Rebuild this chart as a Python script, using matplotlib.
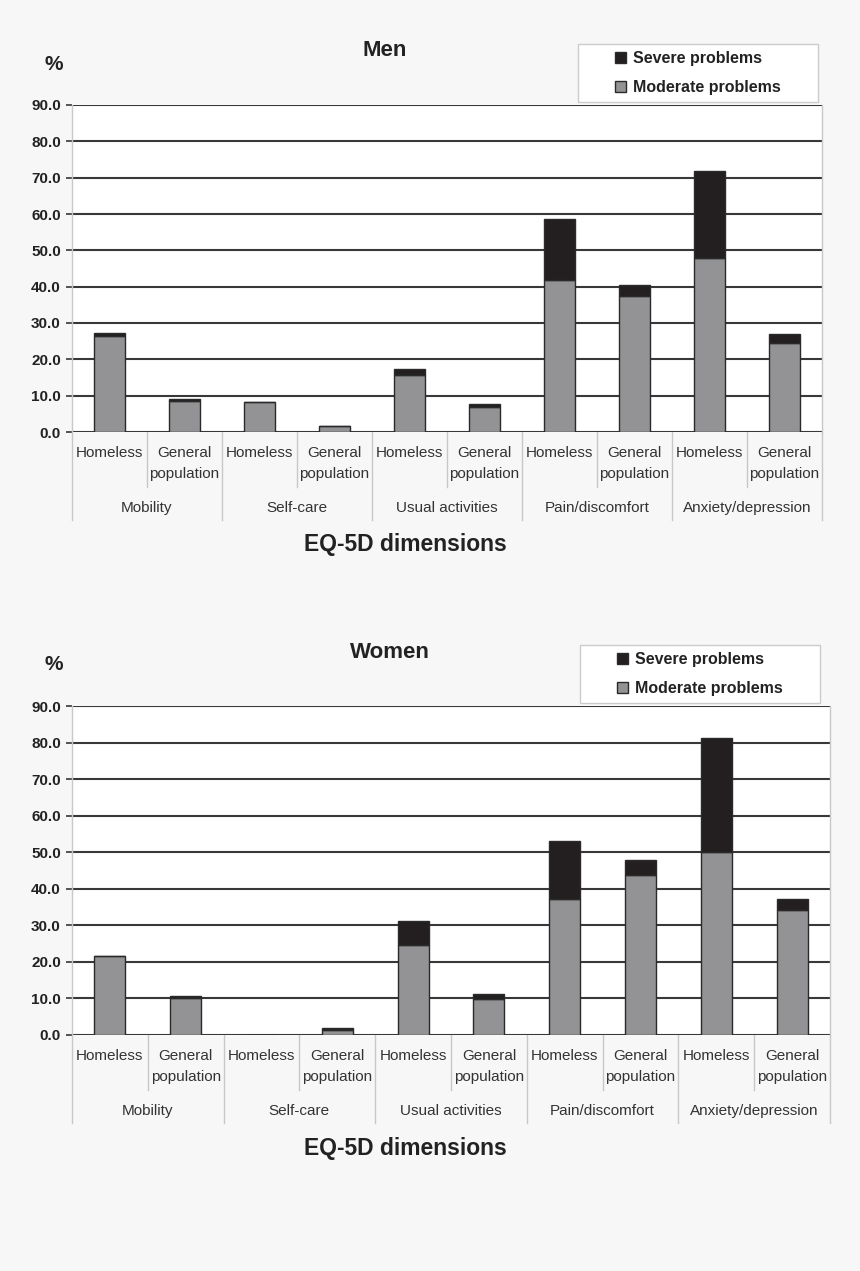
import matplotlib
matplotlib.use("Agg")
import matplotlib.pyplot as plt
from matplotlib.patches import Patch, Rectangle
import numpy as np

plt.rcParams['font.family'] = ['Liberation Sans', 'DejaVu Sans']

dimensions = ["Mobility", "Self-care", "Usual activities", "Pain/discomfort", "Anxiety/depression"]
groups = ["Homeless", "General\npopulation"]

men_moderate = [26.4, 8.4, 8.3, 1.6, 15.6, 6.9, 41.8, 37.4, 47.8, 24.6]
men_severe = [0.9, 0.6, 0.0, 0.0, 1.8, 0.9, 16.9, 3.1, 24.1, 2.3]

women_moderate = [21.7, 10.2, 0.0, 1.4, 24.6, 9.8, 37.3, 43.7, 50.0, 34.1]
women_severe = [0.0, 0.5, 0.0, 0.5, 6.6, 1.3, 15.9, 4.1, 31.2, 3.0]

yticks = [0, 10, 20, 30, 40, 50, 60, 70, 80, 90]

C_MOD = "#939396"
C_SEV = "#231f20"
C_EDGE = "#2a2a2a"
C_GRID = "#383838"
C_SEP = "#c8c8c8"
BG = "#f7f7f7"

W, H = 860, 1271
fig = plt.figure(figsize=(W / 100, H / 100), dpi=100, facecolor=BG)


def fx(px):
    return px / W


def fy(py):
    return 1 - py / H


def draw_panel(left, right, top, bottom, moderate, severe, title, title_xy,
               pct_xy, legend_box, xlabel_xy):
    ax = fig.add_axes([fx(left), fy(bottom), fx(right - left), (bottom - top) / H])
    ax.set_facecolor("white")
    n = len(moderate)
    x = np.arange(n)
    ax.bar(x, moderate, width=0.41, color=C_MOD, edgecolor=C_EDGE, linewidth=1.0, zorder=3)
    ax.bar(x, severe, width=0.41, bottom=moderate, color=C_SEV, edgecolor=C_EDGE,
           linewidth=1.0, zorder=3)
    ax.set_xlim(-0.5, n - 0.5)
    ax.set_ylim(0, 90)
    ax.set_yticks(yticks)
    ax.set_yticklabels([f"{v:.1f}" for v in yticks], fontsize=11, fontweight="bold",
                       color="#222222")
    ax.yaxis.grid(True, color=C_GRID, linewidth=1.5, zorder=1)
    ax.tick_params(axis="y", length=4, width=1.2, color=C_GRID, pad=4)
    ax.set_xticks([])
    for s in ["left", "right"]:
        ax.spines[s].set_color(C_SEP)
        ax.spines[s].set_linewidth(1.0)
    for s in ["top", "bottom"]:
        ax.spines[s].set_visible(False)

    hpx = bottom - top
    tr = ax.get_xaxis_transform()
    # separators
    for i in range(n + 1):
        xb = i - 0.5
        depth = 88 if i % 2 == 0 else 55
        ax.plot([xb, xb], [0, -depth / hpx], transform=tr, color=C_SEP, lw=1.0,
                clip_on=False, zorder=0)
    # sub labels
    for i in range(n):
        ax.text(i, -14 / hpx, groups[i % 2], transform=tr, ha="center", va="top",
                fontsize=11, color="#333333", linespacing=1.6)
    # group labels
    for j, d in enumerate(dimensions):
        ax.text(2 * j + 0.5, -80 / hpx, d, transform=tr, ha="center", va="baseline",
                fontsize=11, color="#333333")

    fig.text(fx(title_xy[0]), fy(title_xy[1]), title, ha="center", va="center",
             fontsize=16, fontweight="bold", color="#222222")
    fig.text(fx(pct_xy[0]), fy(pct_xy[1]), "%", ha="center", va="center",
             fontsize=15, fontweight="bold", color="#222222")
    fig.text(fx(xlabel_xy[0]), fy(xlabel_xy[1]), "EQ-5D dimensions", ha="center",
             va="center", fontsize=16.5, fontweight="bold", color="#222222")

    lx0, ly0, lx1, ly1 = legend_box
    fig.patches.append(Rectangle((fx(lx0), fy(ly1)), fx(lx1 - lx0), (ly1 - ly0) / H,
                                 transform=fig.transFigure, facecolor="white",
                                 edgecolor="#cccccc", linewidth=1.0, zorder=5))
    handles = [Patch(facecolor=C_SEV, edgecolor=C_EDGE, label="Severe problems"),
               Patch(facecolor=C_MOD, edgecolor=C_EDGE, label="Moderate problems")]
    leg = fig.legend(handles=handles, loc="center left",
                     bbox_to_anchor=(fx(lx0 + 37), fy((ly0 + ly1) / 2)),
                     frameon=False, handlelength=0.7, handleheight=0.7,
                     handletextpad=0.45, labelspacing=0.85, borderpad=0, borderaxespad=0,
                     prop={"size": 11.5, "weight": "bold"})
    leg.set_zorder(6)
    for t in leg.get_texts():
        t.set_color("#222222")
    return ax


draw_panel(72, 822, 105, 432, men_moderate, men_severe, "Men", (385, 51), (54, 65),
           (578, 44, 818, 102), (405, 545))
draw_panel(72, 830, 706, 1035, women_moderate, women_severe, "Women", (390, 653), (54, 665),
           (580, 645, 820, 703), (405, 1148))

fig.savefig("out.png", dpi=100, facecolor=BG)
